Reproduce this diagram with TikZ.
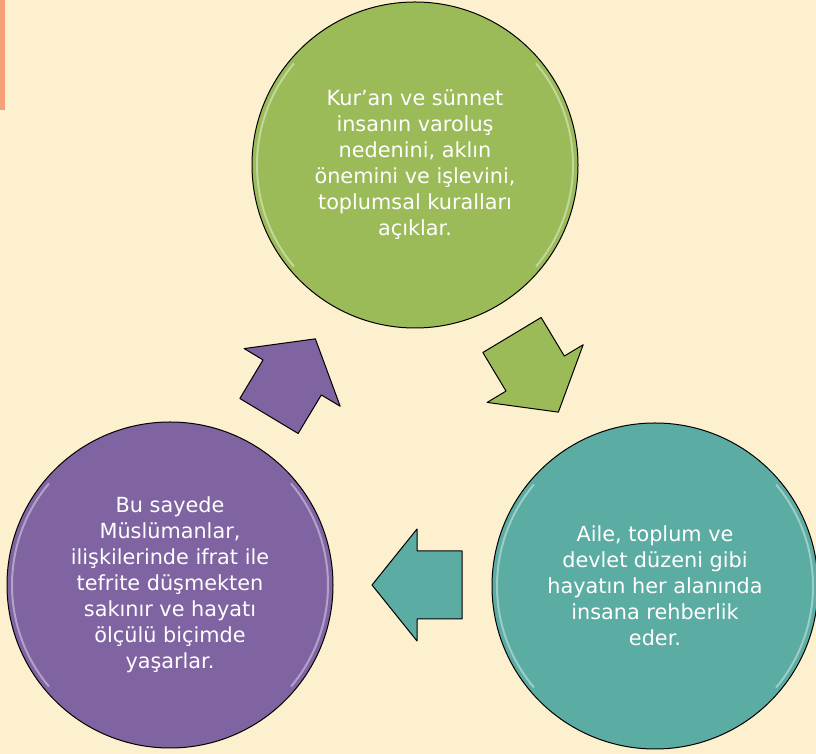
\documentclass[tikz,border=0pt]{standalone}
\usepackage{fontspec}
\setmainfont{DejaVu Sans}
\definecolor{krem}{HTML}{FDF0CF}
\definecolor{turuncu}{HTML}{F6A07A}
\definecolor{yesil}{HTML}{9BBB59}
\definecolor{camgobegi}{HTML}{5BACA3}
\definecolor{mor}{HTML}{8064A2}
\tikzset{
  daire/.style={circle,draw=black,line width=1pt,minimum size=326pt,inner sep=0pt,
    text=white,align=center,font=\fontsize{20.8}{26}\selectfont},
  parlak/.style={white,opacity=.4,line width=2pt},
  okkenar/.style={draw=black,line width=1pt,line join=round}
}

\begin{document}
\begin{tikzpicture}[x=1pt,y=1pt]
      \useasboundingbox (0,0) rectangle (816,754);
      \fill[krem] (0,0) rectangle (816,754);
      \fill[turuncu] (0,644) rectangle (5,754);
      \node[daire,fill=yesil] (kuran) at (415,589)
        {Kur’an ve sünnet\\insanın varoluş\\nedenini, aklın\\önemini ve işlevini,\\toplumsal kuralları\\açıklar.};
      \node[daire,fill=camgobegi] (hayat) at (655,168)
        {Aile, toplum ve\\devlet düzeni gibi\\hayatın her alanında\\insana rehberlik\\eder.};
      \node[daire,fill=mor] (olcu) at (170,169)
        {Bu sayede\\Müslümanlar,\\ilişkilerinde ifrat ile\\tefrite düşmekten\\sakınır ve hayatı\\ölçülü biçimde\\yaşarlar.};
      \foreach \n in {kuran,hayat,olcu} {
        \draw[parlak] (\n.center) ++(140:158) arc (140:220:158);
        \draw[parlak] (\n.center) ++(-40:158) arc (-40:40:158);
      }
      \foreach \x/\y/\a/\c in {269/338/59/mor,512/419/-59/yesil,462/169/180/camgobegi}
        \filldraw[fill=\c,okkenar,shift={(\x,\y)},rotate=\a]
          (0,-34) -- (45,-34) -- (45,-56) -- (90,0) -- (45,56) -- (45,34) -- (0,34) -- cycle;
\end{tikzpicture}
\end{document}
